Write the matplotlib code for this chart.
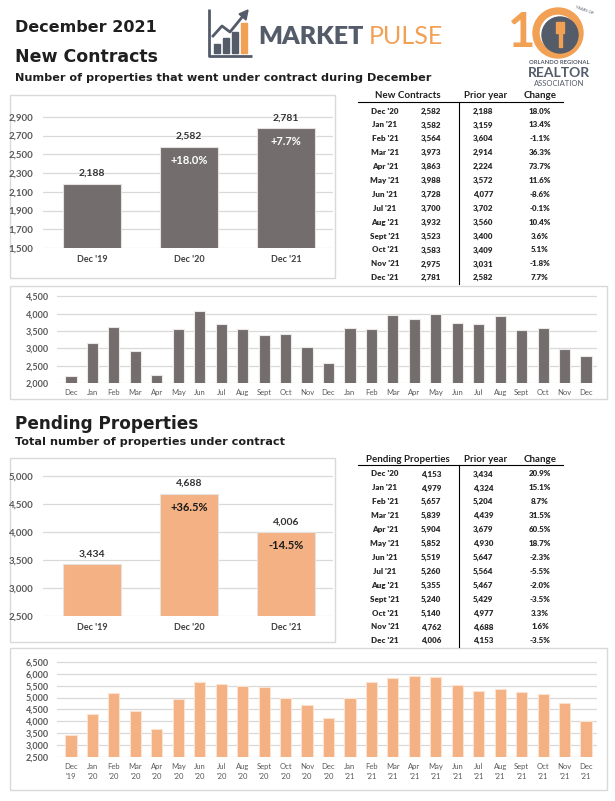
import numpy as np
import matplotlib.pyplot as plt
from matplotlib import font_manager
from matplotlib.patches import Rectangle, Circle, Wedge, Polygon

W, H = 615, 801

# ---- data ----
dec_labels = ["Dec '19", "Dec '20", "Dec '21"]
new_dec = [2188, 2582, 2781]
new_dec_change = ["", "+18.0%", "+7.7%"]
pend_dec = [3434, 4688, 4006]
pend_dec_change = ["", "+36.5%", "-14.5%"]

months = ["Dec", "Jan", "Feb", "Mar", "Apr", "May", "Jun", "Jul", "Aug", "Sept", "Oct", "Nov",
          "Dec", "Jan", "Feb", "Mar", "Apr", "May", "Jun", "Jul", "Aug", "Sept", "Oct", "Nov", "Dec"]
month_years = ["'19"] + ["'20"] * 12 + ["'21"] * 12

new_monthly = [2188, 3159, 3604, 2914, 2224, 3572, 4077, 3702, 3560, 3400, 3409, 3031, 2582,
               3582, 3564, 3973, 3863, 3988, 3728, 3700, 3932, 3523, 3583, 2975, 2781]
pend_monthly = [3434, 4324, 5204, 4439, 3679, 4930, 5647, 5564, 5467, 5429, 4977, 4688, 4153,
                4979, 5657, 5839, 5904, 5852, 5519, 5260, 5355, 5240, 5140, 4762, 4006]

tbl_months = ["Dec '20", "Jan '21", "Feb '21", "Mar '21", "Apr '21", "May '21", "Jun '21",
              "Jul '21", "Aug '21", "Sept '21", "Oct '21", "Nov '21", "Dec '21"]
new_cur = new_monthly[12:]
new_prior = new_monthly[:13]
new_change = ["18.0%", "13.4%", "-1.1%", "36.3%", "73.7%", "11.6%", "-8.6%", "-0.1%",
              "10.4%", "3.6%", "5.1%", "-1.8%", "7.7%"]
pend_cur = pend_monthly[12:]
pend_prior = pend_monthly[:13]
pend_change = ["20.9%", "15.1%", "8.7%", "31.5%", "60.5%", "18.7%", "-2.3%", "-5.5%",
               "-2.0%", "-3.5%", "3.3%", "1.6%", "-3.5%"]

GRAY = "#736e6d"
ORANGE = "#f4b183"
GRID = "#d9d9d9"
TICK = "#595959"
DARK = "#1f1f1f"
SLATE = "#545b69"
LOGO_OR = "#f2a154"

plt.rcParams['font.family'] = ['Lato', 'DejaVu Sans']
names = {f.name for f in font_manager.fontManager.ttflist}
NARROW = 'Liberation Sans Narrow' if 'Liberation Sans Narrow' in names else 'Lato'
HEAD = 'DejaVu Sans'

fig = plt.figure(figsize=(W / 100, H / 100), dpi=100)
bg = fig.add_axes([0, 0, 1, 1])
bg.set_xlim(0, W)
bg.set_ylim(H, 0)
bg.axis('off')


def add_ax(x0, y0, x1, y1):
    ax = fig.add_axes([x0 / W, 1 - y1 / H, (x1 - x0) / W, (y1 - y0) / H])
    ax.set_facecolor('none')
    for s in ax.spines.values():
        s.set_visible(False)
    ax.tick_params(length=0, colors=TICK)
    ax.grid(axis='y', color=GRID, lw=0.9)
    ax.set_axisbelow(True)
    return ax


def panel(x0, y0, x1, y1):
    bg.add_patch(Rectangle((x0, y0), x1 - x0, y1 - y0, fill=False, ec=GRID, lw=1))


def dec_chart(box, values, changes, color, ylim, ticks, change_col):
    x0, y0, x1, y1 = box
    ax = add_ax(x0, y0, x1, y1)
    pos = np.arange(len(values))
    step = 97
    ax.set_xlim(-(92 - x0) / step, 2 + (x1 - 286) / step)
    ax.bar(pos, values, width=0.59, color=color, ec='#e6e2e0', lw=0.8)
    ax.set_ylim(*ylim)
    ax.set_yticks(ticks)
    ax.set_yticklabels([f"{t:,}" for t in ticks], fontsize=7, fontweight='bold')
    ax.set_xticks(pos)
    ax.set_xticklabels(dec_labels, fontsize=6.5, fontweight='bold', color='#404040')
    ax.tick_params(axis='x', pad=5)
    ax.tick_params(axis='y', pad=7)
    for i, v in enumerate(values):
        ax.annotate(f"{v:,}", (i, v), xytext=(0, 4), textcoords='offset points',
                    ha='center', va='bottom', fontsize=7.5, fontweight='bold', color='#333333')
        if changes[i]:
            ax.annotate(changes[i], (i, v), xytext=(0, -6), textcoords='offset points',
                        ha='center', va='top', fontsize=8, fontweight='bold', color=change_col)
    return ax


def monthly_chart(box, values, color, ylim, ticks, two_line):
    x0, y0, x1, y1 = box
    ax = add_ax(x0, y0, x1, y1)
    pos = np.arange(len(values))
    step = 21.46
    ax.set_xlim(-(71 - x0) / step, 24 + (x1 - 586) / step)
    ax.bar(pos, values, width=0.52, color=color, ec='#ece8e6' if color == GRAY else '#fbe3d2', lw=0.8)
    ax.set_ylim(*ylim)
    ax.set_yticks(ticks)
    ax.set_yticklabels([f"{t:,}" for t in ticks], fontsize=6.5, fontweight='bold')
    ax.set_xticks(pos)
    if two_line:
        labels = [f"{m}\n{y}" for m, y in zip(months, month_years)]
    else:
        labels = months
    ax.set_xticklabels(labels, fontsize=5.5, color=TICK, linespacing=1.5)
    ax.tick_params(axis='x', pad=4)
    ax.tick_params(axis='y', pad=6)
    return ax


def table(top, header, cur, prior, change):
    kw = dict(fontsize=7, fontweight='bold', color=DARK, va='center', ha='center')
    bg.text(408, top, header, **kw)
    bg.text(486, top, "Prior year", **kw)
    bg.text(540, top, "Change", **kw)
    bg.plot([358, 563], [top + 5.5, top + 5.5], color='black', lw=0.8)
    row0 = top + 15
    rstep = 13.9
    bg.plot([459, 459], [top + 5.5, row0 + 12 * rstep + 6], color='black', lw=0.8)
    rk = dict(fontsize=5.8, fontweight='heavy', color='#2a2a2a', va='center', ha='center')
    for i in range(len(tbl_months)):
        y = row0 + i * rstep
        bg.text(385, y, tbl_months[i], **rk)
        bg.text(431, y, f"{cur[i]:,}", **rk)
        bg.text(483, y, f"{prior[i]:,}", **rk)
        bg.text(540, y, change[i], **rk)


# ---- headings ----
bg.text(15, 28, "December 2021", fontsize=11.5, fontweight='bold', color=DARK, va='center', family=HEAD)
bg.text(15, 57, "New Contracts", fontsize=12.5, fontweight='bold', color=DARK, va='center', family=HEAD)
bg.text(15, 78, "Number of properties that went under contract during December",
        fontsize=8.1, fontweight='bold', color=DARK, va='center', family=HEAD)
bg.text(15, 424, "Pending Properties", fontsize=12.2, fontweight='bold', color=DARK, va='center', family=HEAD)
bg.text(15, 442, "Total number of properties under contract",
        fontsize=8.1, fontweight='bold', color=DARK, va='center', family=HEAD)

# ---- Market Pulse logo ----
bg.plot([209, 209, 252], [9, 56, 56], color=SLATE, lw=2, solid_capstyle='butt')
for bx, bh, bc in [(214, 9, SLATE), (223, 15, SLATE), (232, 21, SLATE), (241, 30, LOGO_OR)]:
    bg.add_patch(Rectangle((bx, 53 - bh), 6, bh, color=bc))
bg.plot([213, 222, 230, 243], [36, 26, 32, 16], color=SLATE, lw=2)
bg.add_patch(Polygon([[239, 14], [248, 10], [246, 20]], color=SLATE))
mk = bg.text(258, 37, "MARKET", fontsize=18, fontweight='heavy', color=SLATE, va='center',
             family=NARROW)
renderer = fig.canvas.get_renderer()
mk_end = bg.transData.inverted().transform(mk.get_window_extent(renderer).get_points())[1][0]
bg.text(mk_end + 5, 37, "PULSE", fontsize=18, color=LOGO_OR, va='center', family=NARROW)

# ---- association logo ----
bg.text(522, 33, "1", fontsize=34, fontweight='bold', color=LOGO_OR, va='center', ha='center')
bg.add_patch(Wedge((558, 33), 25, 0, 360, width=6, color=LOGO_OR))
bg.add_patch(Circle((560, 35), 18, color=SLATE))
bg.add_patch(Rectangle((556, 22), 8, 11, color=LOGO_OR))
bg.add_patch(Rectangle((559, 33), 2.5, 14, color=LOGO_OR))
bg.text(584, 10, "YEARS OF", fontsize=3, color=SLATE, ha='center', va='center', rotation=-20)
bg.text(559, 63, "ORLANDO REGIONAL", fontsize=4.2, fontweight='bold', color=SLATE, ha='center', va='center')
bg.text(559, 73, "REALTOR", fontsize=10, fontweight='bold', color=SLATE, ha='center', va='center')
bg.text(559, 83, "ASSOCIATION", fontsize=5.5, color=SLATE, ha='center', va='center')

# ---- panels ----
panel(10, 95, 335, 278)
panel(10, 286, 607, 399)
panel(10, 458, 335, 642)
panel(10, 648, 607, 790)

dec_chart((43, 98, 333, 248), new_dec, new_dec_change, GRAY, (1500, 3100),
          list(range(1500, 3000, 200)), 'white')
monthly_chart((57, 293, 597, 383), new_monthly, GRAY, (2000, 4600),
              list(range(2000, 5000, 500)), False)
dec_chart((43, 465, 333, 616), pend_dec, pend_dec_change, ORANGE, (2500, 5200),
          list(range(2500, 5500, 500)), '#1a1a1a')
monthly_chart((57, 656, 597, 757), pend_monthly, ORANGE, (2500, 6750),
              list(range(2500, 7000, 500)), True)

table(96, "New Contracts", new_cur, new_prior, new_change)
table(459, "Pending Properties", pend_cur, pend_prior, pend_change)

fig.savefig("out.png", dpi=100)
